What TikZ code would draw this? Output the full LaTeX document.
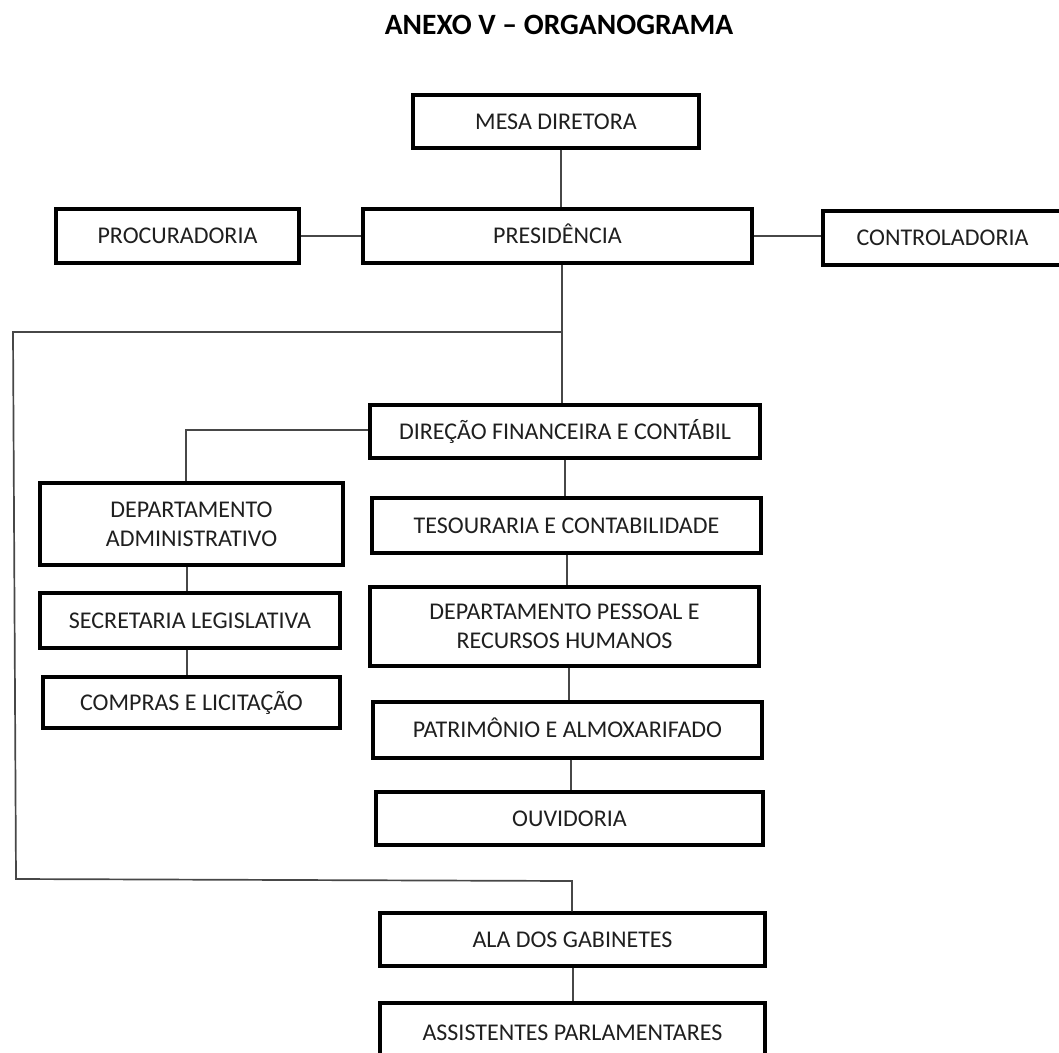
\documentclass[tikz,border=0pt]{standalone}
\usepackage{fontspec}
\setmainfont{Carlito}
\begin{document}
\begin{tikzpicture}[x=1pt,y=-1pt,
  box/.style={draw=black, line width=3.4pt, fill=white, inner sep=0pt, text=black!88,
    font=\fontsize{24}{29}\selectfont, align=center},
  one/.style={text height=15.5pt, text depth=0pt},
  link/.style={draw=black!72, line width=1.7pt, line join=miter},
]
\useasboundingbox (0,0) rectangle (1059,1052);
\node[anchor=base, font=\bfseries\fontsize{29.5}{35}\selectfont] (title) at (559,34) {ANEXO V – ORGANOGRAMA};

\node[box,one,minimum width=286pt,minimum height=53pt] (mesa) at (556,121.5) {MESA DIRETORA};
\node[box,one,minimum width=389pt,minimum height=54pt] (pres) at (557.5,236) {PRESIDÊNCIA};
\node[box,one,minimum width=243pt,minimum height=54pt] (proc) at (177.5,236) {PROCURADORIA};
\node[box,minimum width=300pt,minimum height=54pt] (cont) at (973,238) {};
\node[box,one,draw=none,fill=none] (conttext) at (942.5,238) {CONTROLADORIA};
\node[box,one,minimum width=390pt,minimum height=53pt] (dir) at (565,431.5) {DIREÇÃO FINANCEIRA E CONTÁBIL};
\node[box,minimum width=303pt,minimum height=82pt] (adm) at (191.5,524) {DEPARTAMENTO\\ADMINISTRATIVO};
\node[box,one,minimum width=300pt,minimum height=55pt] (sec) at (190,620.5) {SECRETARIA LEGISLATIVA};
\node[box,one,minimum width=297pt,minimum height=51pt] (comp) at (191.5,702.5) {COMPRAS E LICITAÇÃO};
\node[box,one,minimum width=389pt,minimum height=55pt] (tes) at (566.5,525.5) {TESOURARIA E CONTABILIDADE};
\node[box,minimum width=389pt,minimum height=79pt] (dp) at (564.5,626.5) {DEPARTAMENTO PESSOAL E\\RECURSOS HUMANOS};
\node[box,one,minimum width=389pt,minimum height=56pt] (pat) at (567.5,730) {PATRIMÔNIO E ALMOXARIFADO};
\node[box,one,minimum width=387pt,minimum height=53pt] (ouv) at (569.5,818.5) {OUVIDORIA};
\node[box,one,minimum width=385pt,minimum height=53pt] (ala) at (572.5,939.5) {ALA DOS GABINETES};
\node[box,one,minimum width=385pt,minimum height=60pt] (ast) at (572.5,1033) {ASSISTENTES PARLAMENTARES};

% connector coordinates
\coordinate (m1) at (561,0);
\coordinate (j1) at (562,332);
\coordinate (l1) at (13,332);
\coordinate (l2) at (16,879);
\coordinate (j2) at (572,881);
\coordinate (j3) at (186,430);
\coordinate (c1) at (187,0);
\coordinate (r1) at (565,0);
\coordinate (r2) at (567,0);
\coordinate (r3) at (569,0);
\coordinate (r4) at (571,0);
\coordinate (r5) at (573,0);

\draw[link] (mesa.south -| m1) -- (m1 |- pres.north);
\draw[link] (proc.east) -- (pres.west);
\draw[link] (pres.east) -- (cont.west |- pres.east);
\draw[link] (pres.south -| j1) -- (j1 |- dir.north);
\draw[link] (j1) -- (l1) -- (l2) -- (j2) -- (j2 |- ala.north);
\draw[link] (dir.west |- j3) -- (j3) -- (j3 |- adm.north);
\draw[link] (adm.south -| c1) -- (c1 |- sec.north);
\draw[link] (sec.south -| c1) -- (c1 |- comp.north);
\draw[link] (dir.south -| r1) -- (r1 |- tes.north);
\draw[link] (tes.south -| r2) -- (r2 |- dp.north);
\draw[link] (dp.south -| r3) -- (r3 |- pat.north);
\draw[link] (pat.south -| r4) -- (r4 |- ouv.north);
\draw[link] (ala.south -| r5) -- (r5 |- ast.north);
\end{tikzpicture}
\end{document}
